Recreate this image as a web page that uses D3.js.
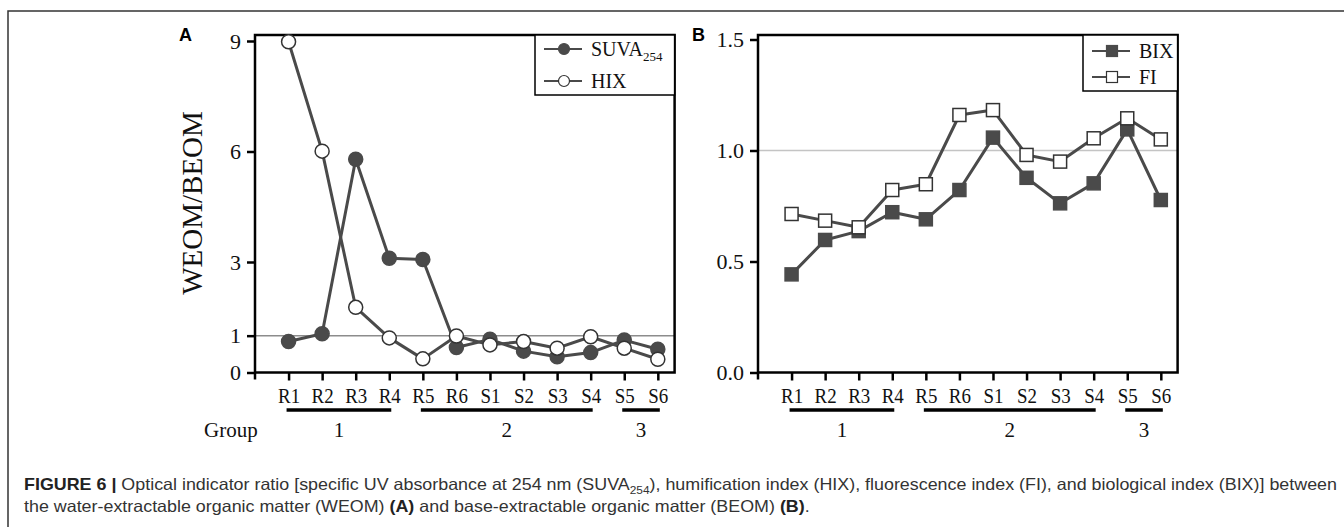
<!DOCTYPE html>
<html>
<head>
<meta charset="utf-8">
<script src="https://cdn.jsdelivr.net/npm/d3@7"></script>
<style>
  html, body { margin: 0; padding: 0; background: #fff; }
  svg { display: block; }
</style>
</head>
<body>
<svg id="fig" width="1344" height="527"></svg>
<script>
// Figure 6 – WEOM/BEOM optical indicator ratios
const categories = ['R1','R2','R3','R4','R5','R6','S1','S2','S3','S4','S5','S6'];

// panel A
const suva = [0.84, 1.05, 5.79, 3.10, 3.07, 0.68, 0.90, 0.58, 0.43, 0.54, 0.88, 0.63];
const hix  = [8.98, 6.01, 1.77, 0.94, 0.37, 0.99, 0.75, 0.84, 0.66, 0.97, 0.66, 0.36];
const ticksA = [0, 1, 3, 6, 9];

// panel B
const bix = [0.442, 0.597, 0.637, 0.722, 0.690, 0.822, 1.058, 0.877, 0.762, 0.852, 1.095, 0.777];
const fi  = [0.714, 0.684, 0.654, 0.822, 0.848, 1.160, 1.182, 0.980, 0.950, 1.055, 1.145, 1.050];
const ticksB = [0, 0.5, 1.0, 1.5];

// sample groups
const groupLabels = ['1', '2', '3'];
const groupStart  = ['R1', 'R5', 'S5'];
const groupEnd    = ['R4', 'S4', 'S6'];

const SERIF = '"Liberation Serif", "Times New Roman", serif';
const SANS  = '"Liberation Sans", Arial, sans-serif';
const INK   = '#4a4a4a';

const svg = d3.select('#fig');

// outer figure border (left + top only)
svg.append('path')
  .attr('d', 'M8,527 V11 H1344')
  .attr('fill', 'none').attr('stroke', '#333').attr('stroke-width', 1.5);

function panel(opt){
  const g = svg.append('g');
  const x = d3.scaleLinear().domain([0, 12.5]).range([opt.left, opt.left + 419.6]);
  const y = d3.scaleLinear().domain([0, opt.yMax]).range([372.5, opt.yTopTick]);
  const top = 35, right = x(12.5), bottom = y(0);
  const idx = c => categories.indexOf(c) + 1;

  // reference line at ratio = 1
  g.append('line')
    .attr('x1', opt.left).attr('x2', right)
    .attr('y1', y(1)).attr('y2', y(1))
    .attr('stroke', opt.refColour).attr('stroke-width', 1.5);

  // y axis
  const ya = g.append('g')
    .attr('transform', `translate(${opt.left},0)`)
    .call(d3.axisLeft(y).tickValues(opt.ticks).tickSize(8).tickPadding(6).tickFormat(opt.fmt));
  ya.select('.domain').remove();
  ya.selectAll('line').attr('stroke', '#000').attr('stroke-width', 2.5);
  ya.selectAll('text').attr('font-family', SERIF).attr('font-size', 22).attr('fill', '#111');

  // x axis
  const xa = g.append('g')
    .attr('transform', `translate(0,${bottom})`)
    .call(d3.axisBottom(x).tickValues(d3.range(1, 13)).tickSize(8).tickPadding(7)
      .tickFormat(d => categories[d - 1]));
  xa.select('.domain').remove();
  xa.selectAll('line').attr('stroke', '#000').attr('stroke-width', 2.5);
  xa.selectAll('text').attr('font-family', SERIF).attr('font-size', 21.5).attr('fill', '#111')
    .attr('transform', 'scale(0.88,1)');

  // frame
  g.append('rect')
    .attr('x', opt.left).attr('y', top)
    .attr('width', right - opt.left).attr('height', bottom - top)
    .attr('fill', 'none').attr('stroke', '#000').attr('stroke-width', 2.5);
  g.append('line')
    .attr('x1', opt.left).attr('x2', opt.left)
    .attr('y1', bottom).attr('y2', bottom + 7)
    .attr('stroke', '#000').attr('stroke-width', 2.5);

  // series
  const line = d3.line().x((d, i) => x(i + 1)).y(d => y(d));
  opt.series.forEach(s => {
    g.append('path').datum(s.values)
      .attr('d', line).attr('fill', 'none')
      .attr('stroke', INK).attr('stroke-width', 3).attr('stroke-linejoin', 'round');
  });
  opt.series.forEach(s => {
    const pts = g.append('g').selectAll('.pt').data(s.values).enter();
    if (s.shape === 'circle') {
      pts.append('circle')
        .attr('cx', (d, i) => x(i + 1)).attr('cy', d => y(d)).attr('r', 7)
        .attr('fill', s.filled ? INK : '#fff')
        .attr('stroke', s.filled ? INK : '#333').attr('stroke-width', 1.5);
    } else {
      pts.append('rect')
        .attr('x', (d, i) => x(i + 1) - 6.5).attr('y', d => y(d) - 6.5)
        .attr('width', 13).attr('height', 13)
        .attr('fill', s.filled ? INK : '#fff')
        .attr('stroke', s.filled ? INK : '#333').attr('stroke-width', 1.5);
    }
  });

  // legend
  const L = opt.legend;
  g.append('rect')
    .attr('x', L.x).attr('y', top).attr('width', right - L.x).attr('height', L.h)
    .attr('fill', '#fff').attr('stroke', '#000').attr('stroke-width', 1.5);
  opt.series.forEach((s, k) => {
    const ly = top + L.rowY[k];
    g.append('line')
      .attr('x1', L.x + 9).attr('x2', L.x + 47).attr('y1', ly).attr('y2', ly)
      .attr('stroke', INK).attr('stroke-width', 2);
    const cx = L.x + 29;
    if (s.shape === 'circle') {
      g.append('circle').attr('cx', cx).attr('cy', ly).attr('r', 5.5)
        .attr('fill', s.filled ? INK : '#fff')
        .attr('stroke', s.filled ? INK : '#333').attr('stroke-width', 1.2);
    } else {
      g.append('rect').attr('x', cx - 5.5).attr('y', ly - 5.5).attr('width', 11).attr('height', 11)
        .attr('fill', s.filled ? INK : '#fff')
        .attr('stroke', s.filled ? INK : '#333').attr('stroke-width', 1.2);
    }
    const t = g.append('text')
      .attr('x', L.x + 56).attr('y', ly + 7)
      .attr('font-family', SERIF).attr('font-size', 20).attr('fill', '#111');
    t.append('tspan').text(s.name);
    if (s.sub) t.append('tspan').attr('font-size', 13).attr('dy', 5).text(s.sub);
  });

  // group bars
  groupLabels.forEach((lab, k) => {
    const x0 = x(idx(groupStart[k])) - 2, x1 = x(idx(groupEnd[k])) + 2;
    g.append('line')
      .attr('x1', x0).attr('x2', x1).attr('y1', 410).attr('y2', 410)
      .attr('stroke', '#000').attr('stroke-width', 3.5);
    g.append('text')
      .attr('x', (x0 + x1) / 2).attr('y', 437)
      .attr('text-anchor', 'middle')
      .attr('font-family', SERIF).attr('font-size', 21).attr('fill', '#111')
      .text(lab);
  });

  // panel letter
  g.append('text')
    .attr('x', opt.letterX).attr('y', 41)
    .attr('font-family', SANS).attr('font-weight', 'bold').attr('font-size', 18)
    .text(opt.letter);
}

panel({
  left: 255, yMax: 9, yTopTick: 41, ticks: ticksA, fmt: d3.format('d'),
  refColour: '#8c8c8c', letter: 'A', letterX: 179,
  series: [
    { name: 'SUVA', sub: '254', values: suva, shape: 'circle', filled: true },
    { name: 'HIX', values: hix, shape: 'circle', filled: false }
  ],
  legend: { x: 535, h: 60, rowY: [14, 46] }
});

panel({
  left: 758, yMax: 1.5, yTopTick: 39.5, ticks: ticksB, fmt: d3.format('.1f'),
  refColour: '#c4c4c4', letter: 'B', letterX: 692,
  series: [
    { name: 'BIX', values: bix, shape: 'square', filled: true },
    { name: 'FI', values: fi, shape: 'square', filled: false }
  ],
  legend: { x: 1083, h: 56, rowY: [16, 42] }
});

// y axis title
svg.append('text')
  .attr('transform', 'translate(202,203) rotate(-90)')
  .attr('text-anchor', 'middle')
  .attr('font-family', SERIF).attr('font-size', 29).attr('fill', '#111')
  .text('WEOM/BEOM');

// "Group" row label
svg.append('text')
  .attr('x', 204).attr('y', 437)
  .attr('font-family', SERIF).attr('font-size', 21).attr('fill', '#111')
  .text('Group');

// caption
const cap1 = svg.append('text').attr('x', 24).attr('y', 490)
  .attr('font-family', SANS).attr('font-size', 16.5).attr('fill', '#333');
cap1.append('tspan').attr('font-weight', 'bold').attr('fill', '#222').text('FIGURE 6 | ');
cap1.append('tspan').text('Optical indicator ratio [specific UV absorbance at 254 nm (SUVA');
cap1.append('tspan').attr('font-size', 11).attr('dy', 4).text('254');
cap1.append('tspan').attr('dy', -4).text('), humification index (HIX), fluorescence index (FI), and biological index (BIX)] between');

const cap2 = svg.append('text').attr('x', 24).attr('y', 512)
  .attr('font-family', SANS).attr('font-size', 16.5).attr('fill', '#333');
cap2.append('tspan').text('the water-extractable organic matter (WEOM) ');
cap2.append('tspan').attr('font-weight', 'bold').attr('fill', '#222').text('(A)');
cap2.append('tspan').text(' and base-extractable organic matter (BEOM) ');
cap2.append('tspan').attr('font-weight', 'bold').attr('fill', '#222').text('(B)');
cap2.append('tspan').text('.');

// squeeze caption so line 1 spans the same width as the original
const n1 = cap1.node().getComputedTextLength();
const k = 1313 / n1;
cap1.attr('textLength', 1313).attr('lengthAdjust', 'spacingAndGlyphs');
const n2 = cap2.node().getComputedTextLength();
cap2.attr('textLength', n2 * k).attr('lengthAdjust', 'spacingAndGlyphs');
</script>
</body>
</html>
